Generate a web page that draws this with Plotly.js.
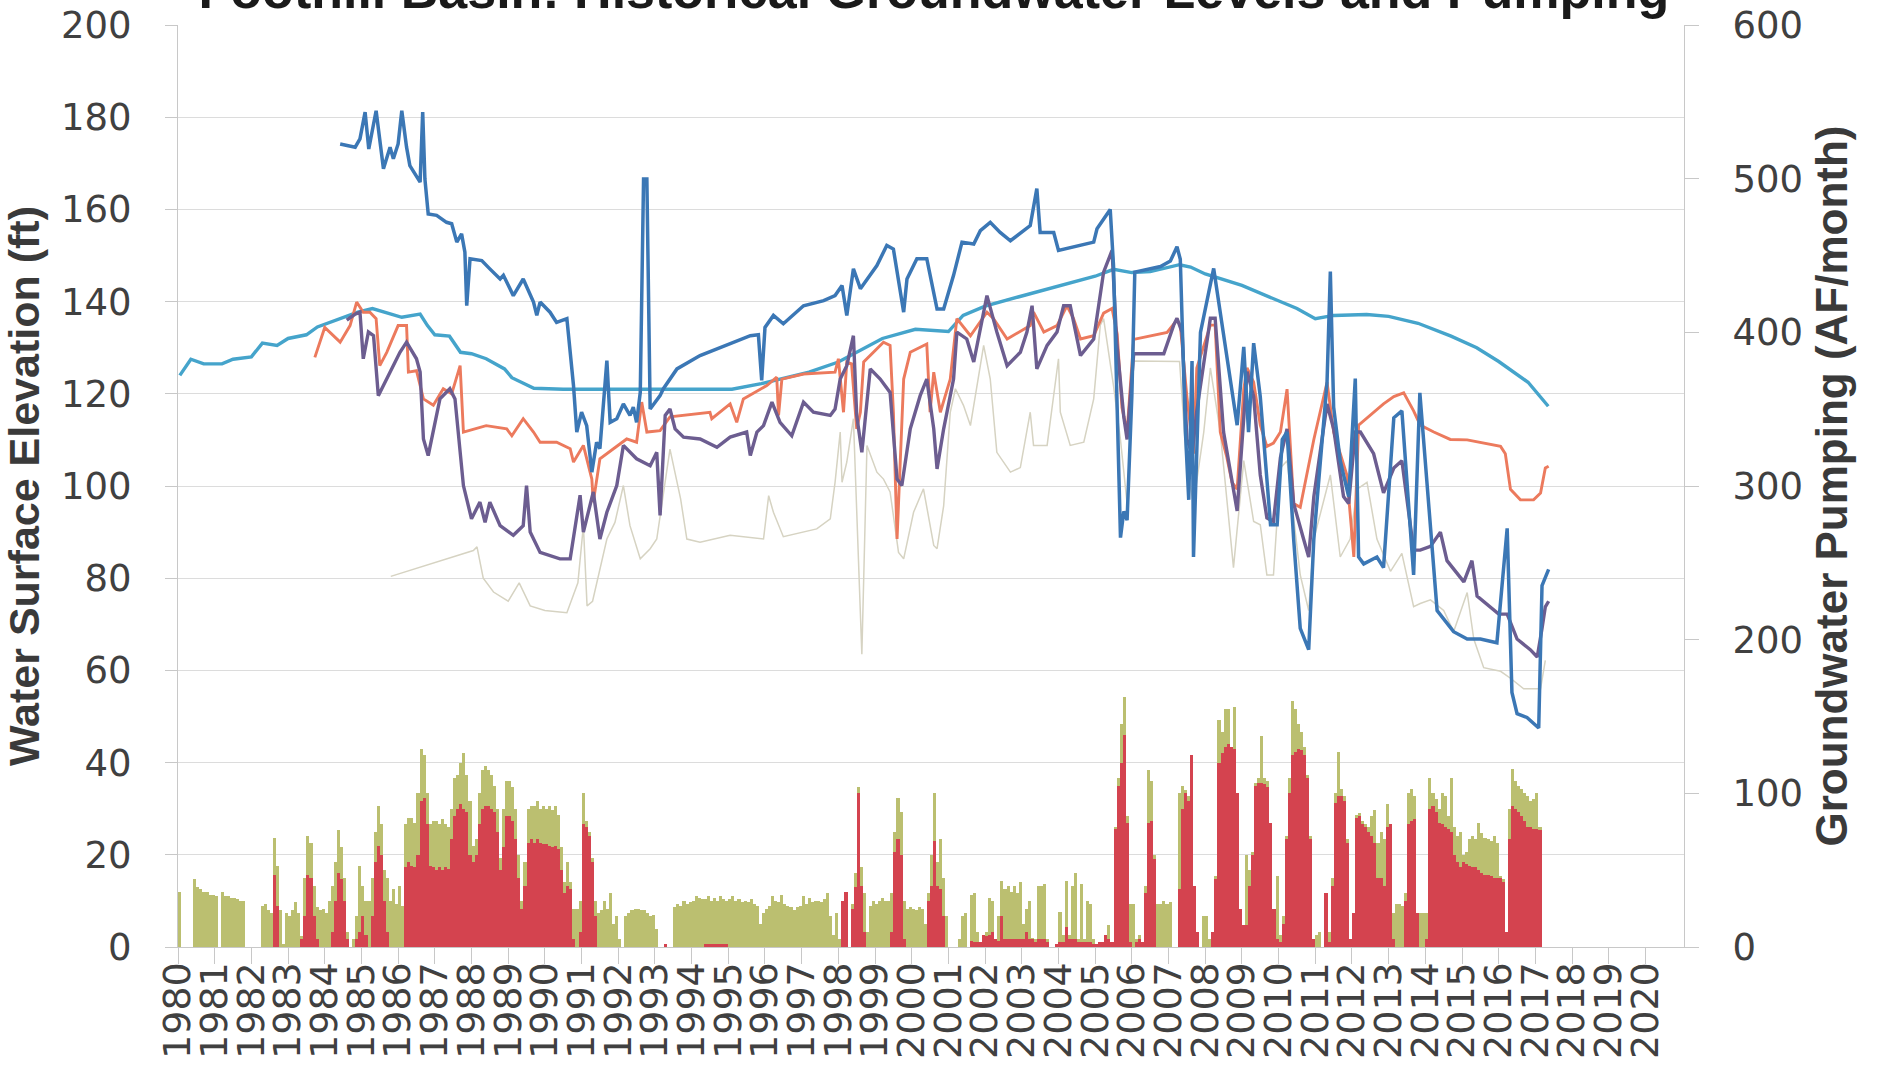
<!DOCTYPE html>
<html><head><meta charset="utf-8">
<script src="https://cdn.plot.ly/plotly-3.0.1.min.js"></script>
<style>html,body{margin:0;padding:0;background:#fff;}#chart{width:1881px;height:1079px;}</style>
</head><body><div id="chart"></div>
<script>
// ---------- axis tick labels ----------
const yearTicks = [1980,1981,1982,1983,1984,1985,1986,1987,1988,1989,1990,1991,1992,1993,1994,1995,1996,1997,1998,1999,2000,2001,2002,2003,2004,2005,2006,2007,2008,2009,2010,2011,2012,2013,2014,2015,2016,2017,2018,2019,2020];
const elevTicks = [0,20,40,60,80,100,120,140,160,180,200];
const pumpTicks = [0,100,200,300,400,500,600];

// ---------- monthly pumping (AF/month), Jan 1980 onward ----------
const pumpStartYear = 1980;
const pumpTotal = [
36,0,0,0,0,44,39,38,36,36,34,34,          //1980
33,0,36,33,33,32,32,31,30,30,0,0,         //1981
0,0,0,27,28,24,22,71,53,24,2,22,          //1982
20,24,29,22,7,45,72,68,40,26,24,25,       //1983
22,30,40,55,76,65,45,10,0,5,20,53,        //1984
40,30,30,45,75,92,80,50,45,30,38,28,      //1985
40,27,80,84,84,81,100,129,125,100,80,82,  //1986
82,80,83,80,78,90,110,112,120,126,112,95, //1987
66,70,100,115,118,115,112,105,90,58,90,108, //1988
108,104,90,60,30,55,90,92,92,95,90,92,    //1989
90,92,89,92,86,65,42,55,42,25,25,30,      //1990
100,82,75,58,30,22,24,30,25,35,15,20,     //1991
5,0,20,22,24,25,25,24,24,22,20,21,        //1992
12,0,0,2,0,0,26,28,27,30,28,29,           //1993
30,33,32,31,31,33,30,32,30,33,31,30,      //1994
31,33,30,31,29,30,29,31,28,27,15,22,      //1995
25,27,33,30,29,34,28,27,26,24,26,27,      //1996
33,28,32,29,30,30,29,31,35,20,8,22,       //1997
5,30,36,0,28,48,104,52,35,10,27,30,       //1998
28,30,32,30,30,35,75,97,88,30,25,26,      //1999
25,24,26,25,15,35,60,100,55,70,45,20,     //2000
0,0,0,5,20,22,0,34,35,10,3,8,             //2001
10,32,30,5,20,43,38,40,36,40,35,42,       //2002
15,25,30,6,5,40,40,41,5,0,0,2,            //2003
23,8,43,8,40,48,5,41,5,30,28,5,           //2004
2,3,3,8,14,3,78,110,145,163,85,28,        //2005
28,5,8,3,40,115,108,60,28,28,30,28,       //2006
29,0,0,100,105,102,98,125,40,10,0,20,     //2007
20,5,10,46,148,140,155,155,130,156,100,25,//2008
14,60,50,62,107,110,137,110,108,81,25,46, //2009
8,20,72,110,160,155,145,140,130,112,72,5, //2010
8,10,0,35,10,45,100,127,103,98,70,5,      //2011
22,86,87,82,80,78,85,89,68,75,70,93,      //2012
80,22,28,28,27,35,100,103,98,22,22,22,    //2013
22,110,100,96,90,100,98,85,110,78,72,75,  //2014
60,62,70,72,70,81,74,71,70,69,72,68,      //2015
46,44,10,90,116,108,105,103,100,98,95,96, //2016
100,78                                    //2017
];
const pumpRed = [
0,0,0,0,0,0,0,0,0,0,0,0,                  //1980
0,0,0,0,0,0,0,0,0,0,0,0,                  //1981
0,0,0,0,0,0,0,47,27,0,0,0,                //1982
0,0,0,0,5,20,47,45,20,5,0,0,              //1983
0,0,10,30,48,44,30,5,0,0,5,10,            //1984
20,8,0,20,55,66,60,30,10,0,0,0,           //1985
0,0,52,55,53,52,60,95,97,80,53,52,        //1986
50,52,50,52,51,70,85,90,93,90,88,60,      //1987
55,60,80,90,92,92,90,88,75,50,65,85,      //1988
85,82,70,45,25,40,68,70,68,70,68,67,      //1989
67,66,65,66,64,50,35,40,38,5,0,10,        //1990
80,78,72,55,20,0,0,0,0,0,0,0,             //1991
0,0,0,0,0,0,0,0,0,0,0,0,                  //1992
0,0,0,2,0,0,0,0,0,0,0,0,                  //1993
0,0,0,0,2,2,2,2,2,2,2,2,                  //1994
0,0,0,0,0,0,0,0,0,0,0,0,                  //1995
0,0,0,0,0,0,0,0,0,0,0,0,                  //1996
0,0,0,0,0,0,0,0,0,0,0,0,                  //1997
0,30,36,0,25,39,100,40,10,0,0,0,          //1998
0,0,0,0,0,10,62,70,60,5,0,0,              //1999
0,0,0,0,0,30,40,69,40,38,20,0,            //2000
0,0,0,0,0,0,0,4,3,3,3,8,                  //2001
7,8,10,5,4,20,5,5,5,5,5,5,                //2002
5,10,5,5,3,5,5,5,3,0,0,2,                 //2003
3,3,13,5,5,5,3,3,3,3,3,2,                 //2004
2,3,3,8,5,3,77,105,120,138,81,3,          //2005
0,3,5,3,35,81,82,57,0,0,0,0,              //2006
0,0,0,38,90,100,95,125,40,10,0,0,         //2007
0,0,10,44,120,126,130,132,130,129,100,25, //2008
14,14,40,60,105,107,107,106,104,81,25,5,  //2009
3,15,70,100,125,127,129,128,125,110,70,5, //2010
0,0,0,35,3,40,94,98,98,95,68,5,           //2011
22,84,85,80,78,75,72,68,45,45,40,78,      //2012
80,5,0,0,0,30,80,82,83,22,0,0,            //2013
5,90,92,88,81,80,78,77,75,60,55,52,       //2014
55,54,53,52,52,50,48,47,47,46,45,45,      //2015
45,42,10,70,92,90,88,85,82,78,78,77,      //2016
77,76                                     //2017
];

// ---------- water levels (ft) ----------
const tealYears = [1980.05,1980.35,1980.7,1981.2,1981.5,1982.0,1982.3,1982.7,1983.0,1983.5,1983.8,1984.3,1984.9,1985.3,1985.8,1986.1,1986.6,1986.8,1987.0,1987.4,1987.7,1988.0,1988.4,1988.9,1989.1,1989.7,1990.5,1992.0,1993.5,1995.1,1995.9,1997.2,1998.0,1999.2,2000.1,2001.0,2001.4,2002.0,2002.9,2003.8,2005.0,2005.5,2006.0,2006.5,2007.3,2007.6,2008.0,2009.0,2009.3,2010.0,2010.5,2011.0,2011.5,2012.4,2013.0,2013.8,2014.7,2015.4,2016.0,2016.8,2017.35];
const tealLevels = [124,127.5,126.5,126.5,127.5,128,131,130.5,132,132.8,134.5,136,137.7,138.5,137.3,136.6,137.3,134.8,132.8,132.5,129,128.7,127.6,125.4,123.5,121.2,121,121,121,121,122.2,124.7,126.9,132,134,133.5,137,139,141,143,145.5,147,146.3,146.5,148,147.5,146,143.5,142.5,140,138.5,136.3,137,137.2,136.8,135.3,132.5,130,127,122.5,117.3];

const blueYears = [1984.42,1984.83,1984.96,1985.1,1985.2,1985.4,1985.6,1985.78,1985.87,1986.0,1986.1,1986.23,1986.32,1986.6,1986.67,1986.73,1986.82,1987.05,1987.32,1987.46,1987.6,1987.73,1987.82,1987.87,1987.96,1988.28,1988.5,1988.78,1988.87,1989.14,1989.41,1989.69,1989.78,1989.87,1990.14,1990.32,1990.6,1990.78,1990.87,1991.0,1991.14,1991.28,1991.41,1991.5,1991.69,1991.78,1991.96,1992.14,1992.32,1992.41,1992.5,1992.6,1992.69,1992.78,1992.87,1993.14,1993.23,1993.6,1994.23,1994.69,1995.14,1995.6,1995.82,1995.91,1996.0,1996.23,1996.5,1997.05,1997.6,1997.91,1998.1,1998.23,1998.41,1998.6,1999.05,1999.32,1999.5,1999.78,1999.87,2000.14,2000.41,2000.69,2000.87,2001.14,2001.37,2001.69,2001.87,2002.14,2002.41,2002.69,2003.23,2003.41,2003.5,2003.87,2004.0,2004.96,2005.05,2005.41,2005.5,2005.6,2005.69,2005.78,2005.87,2006.0,2006.08,2006.78,2007.05,2007.23,2007.32,2007.46,2007.55,2007.64,2007.68,2007.87,2008.23,2008.87,2009.05,2009.18,2009.32,2009.5,2009.78,2009.96,2010.1,2010.23,2010.41,2010.59,2010.82,2010.96,2011.32,2011.41,2011.5,2011.68,2011.91,2012.09,2012.18,2012.32,2012.68,2012.86,2013.14,2013.36,2013.68,2013.85,2014.32,2014.77,2015.14,2015.5,2015.95,2016.23,2016.36,2016.5,2016.77,2017.09,2017.18,2017.36];
const blueLevels = [174.2,173.5,175.3,181.1,173.1,181.4,168.8,173.5,171,174.2,181.4,173.5,169.5,165.9,181.1,166.6,159,158.7,157.2,156.9,152.9,154.7,150.7,139.1,149.3,148.9,147.1,144.9,145.7,141.3,144.9,139.9,137,139.9,137.7,135.5,136.3,121.8,111.7,116,113.1,103,109.5,108.1,127.2,113.8,114.6,117.8,115.3,117.1,113.8,120.3,166.6,166.6,116.7,119.6,121.1,125.4,128.3,129.7,131.2,132.6,132.8,122.9,134.4,137,135.2,139.1,140.2,141.3,143.5,137,147.1,142.8,147.8,152.2,151.4,137.7,144.9,149.3,149.3,138.4,138.4,145.7,152.9,152.5,155.4,157.2,155,153.2,156.5,164.5,155,155,151.1,152.9,155.8,160,147.8,112.4,88.8,94.5,92.6,119.6,146.4,147.6,148.8,151.9,149.2,111.7,97,127.1,84.6,133.3,147.2,113.2,130.2,111.7,131,119.4,91.6,91.6,110.1,111.7,88.5,69.1,64.5,88.5,122.5,146.5,117.1,105.5,97.7,123.3,84.6,83.1,84.6,82.3,114.8,116.3,80.7,120.2,73,68.4,66.8,66.8,66,90.8,55.2,50.6,49.8,47.5,78.4,81.9];

const orangeYears = [1983.73,1984.0,1984.42,1984.69,1984.87,1985.05,1985.23,1985.4,1985.5,1985.69,1986.0,1986.23,1986.28,1986.5,1986.69,1986.96,1987.23,1987.46,1987.69,1987.78,1988.4,1988.96,1989.1,1989.41,1989.69,1989.87,1990.32,1990.69,1990.78,1991.05,1991.28,1991.32,1991.5,1991.87,1992.23,1992.5,1992.64,1992.78,1993.14,1993.41,1993.78,1994.5,1994.55,1995.05,1995.23,1995.41,1996.05,1996.32,1996.37,1996.46,1997.05,1997.91,1998.0,1998.14,1998.23,1998.36,1998.5,1998.6,1998.69,1999.23,1999.41,1999.5,1999.6,1999.78,1999.96,2000.41,2000.5,2000.6,2000.78,2001.05,2001.23,2001.6,2002.05,2002.23,2002.6,2003.23,2003.32,2003.6,2003.96,2004.23,2004.41,2004.6,2004.96,2005.23,2005.46,2005.6,2005.73,2005.87,2006.05,2006.96,2007.23,2007.32,2007.5,2007.68,2007.77,2008.14,2008.27,2008.41,2008.59,2008.73,2008.87,2009.05,2009.14,2009.32,2009.5,2009.68,2009.86,2010.05,2010.23,2010.41,2010.59,2010.96,2011.32,2011.5,2011.86,2012.05,2012.18,2012.41,2012.86,2013.14,2013.41,2013.68,2013.86,2014.23,2014.68,2015.14,2015.59,2016.05,2016.18,2016.32,2016.59,2016.95,2017.14,2017.27,2017.36];
const orangeLevels = [127.9,134.4,131.2,134.8,139.9,137.7,137.7,136.3,126.1,129,134.8,134.8,124.7,125,118.9,117.5,121.1,120,126.1,111.7,113.1,112.4,110.9,114.6,111.7,109.5,109.5,108.1,105.2,108.8,101.5,96.5,105.9,108.1,110.2,109.5,118.2,111.7,112,115,115.3,116,114.6,117.8,113.8,118.9,121.8,123.6,115.3,123.2,124.3,124.7,127.6,116,126.9,126.5,112.4,116,126.9,131.2,130.5,116,88.5,123.2,129,130.8,116,124.7,116,123.2,136.3,132.6,137.7,136.3,131.9,134.8,137.7,133.4,134.8,139.1,136.3,131.9,132.6,137.5,138.5,133,117,111.7,131.8,133.3,136,134.9,119.4,107,125.6,134.9,134.9,111.7,106.2,100.8,99.3,121,125.6,122.5,113.2,108.6,109.3,111.7,121,96.2,95.4,110.1,122.5,111.7,102.4,84.6,113.2,114.8,117.8,119.4,120.2,116.3,113.2,111.7,110.1,110,109.3,108.6,107,99.3,97,97,98.5,103.9,104.3];

const purpleYears = [1984.6,1984.83,1984.96,1985.05,1985.19,1985.33,1985.46,1985.6,1985.78,1986.05,1986.23,1986.5,1986.6,1986.69,1986.82,1986.96,1987.14,1987.41,1987.55,1987.78,1988.0,1988.23,1988.37,1988.5,1988.78,1989.14,1989.41,1989.5,1989.6,1989.87,1990.41,1990.69,1990.96,1991.05,1991.32,1991.5,1991.69,1991.96,1992.14,1992.5,1992.87,1993.05,1993.14,1993.28,1993.41,1993.55,1993.78,1994.23,1994.69,1995.05,1995.5,1995.6,1995.78,1995.96,1996.19,1996.41,1996.73,1997.05,1997.32,1997.78,1997.91,1998.05,1998.23,1998.41,1998.5,1998.64,1998.87,1999.14,1999.41,1999.6,1999.73,1999.96,2000.23,2000.41,2000.6,2000.69,2000.87,2001.14,2001.23,2001.5,2001.69,2002.05,2002.32,2002.6,2002.96,2003.14,2003.28,2003.41,2003.69,2003.96,2004.14,2004.32,2004.6,2004.96,2005.23,2005.46,2005.59,2005.78,2005.87,2006.05,2006.87,2007.14,2007.23,2007.37,2007.5,2007.64,2007.77,2008.14,2008.27,2008.5,2008.77,2008.87,2009.14,2009.32,2009.5,2009.68,2009.86,2010.05,2010.23,2010.41,2010.68,2010.82,2010.96,2011.32,2011.5,2011.77,2011.91,2012.09,2012.23,2012.59,2012.86,2013.14,2013.36,2013.68,2013.86,2014.14,2014.41,2014.59,2015.05,2015.27,2015.41,2015.77,2016.0,2016.23,2016.5,2016.86,2017.05,2017.18,2017.27,2017.36];
const purpleLevels = [136,137.3,137.7,127.6,133.4,132.6,119.6,121.8,124.7,129,131.2,127.6,124.7,110.2,106.6,112.4,118.9,121.1,118.9,100.1,92.9,96.5,92.1,96.5,91.4,89.3,91.4,100.1,90,85.6,84.2,84.2,98,90,98.7,88.5,94.3,100.1,108.8,105.9,104.4,107.3,93.6,115.3,116.7,112.4,110.6,110.2,108.4,110.6,111.7,106.6,111.7,113.1,118.2,113.8,110.9,118.2,116,115.3,116.7,123.2,126.1,132.6,115.3,107.3,125.4,123.2,120.3,101.5,100.1,112.4,119.6,123.2,112.4,103.7,112.4,123.2,133.4,131.9,126.9,141.3,133.4,126.1,129,133.4,139.1,125.4,130.5,133.4,139.1,139.1,128.3,131.9,146.4,151.1,131,115,110.1,128.7,128.7,134.9,136.4,133.3,110.1,107,116.3,136.4,136.4,111.7,99.3,94.6,124.8,119.4,102.4,93.1,92.3,106.2,112.4,96.2,88.5,84.6,97.7,117.8,112.4,97.7,96.2,111.7,111.7,107,98.5,103.9,105.5,86.1,86.1,86.9,90,83.8,79.2,83.8,76.1,73.8,72.2,72.2,66.8,64.5,62.9,69.1,73.8,75];

const grayYears = [1985.8,1988.05,1988.15,1988.32,1988.6,1989.0,1989.3,1989.6,1990.0,1990.6,1990.9,1991.05,1991.15,1991.3,1991.69,1991.91,1992.14,1992.32,1992.6,1992.87,1993.05,1993.41,1993.7,1993.87,1994.23,1995.05,1995.96,1996.1,1996.23,1996.5,1997.41,1997.78,1997.91,1998.05,1998.1,1998.23,1998.41,1998.55,1998.64,1998.78,1999.05,1999.23,1999.41,1999.64,1999.78,2000.05,2000.32,2000.6,2000.69,2000.87,2001.05,2001.19,2001.41,2001.6,2001.96,2002.14,2002.32,2002.69,2002.96,2003.23,2003.32,2003.69,2004.0,2004.05,2004.32,2004.69,2004.96,2005.14,2005.23,2005.5,2005.69,2005.87,2006.05,2007.3,2007.5,2007.68,2007.96,2008.14,2008.41,2008.77,2009.05,2009.32,2009.5,2009.68,2009.86,2010.05,2010.23,2010.59,2010.82,2010.96,2011.41,2011.68,2011.95,2012.14,2012.41,2012.68,2013.05,2013.36,2013.68,2013.86,2014.14,2014.5,2014.77,2015.14,2015.32,2015.59,2016.05,2016.32,2016.68,2017.14,2017.27];
const grayLevels = [80.4,86,86.8,80,77,75,79,74,73,72.5,79,91.4,74,75,88.5,92.1,100.1,91.4,84.2,86.4,88.5,108,97.2,88.5,87.8,89.3,88.5,97.9,94.3,89,90.7,92.9,100.8,111.7,100.8,105.2,114.6,81.3,63.5,108.8,103,101.5,98.7,85.6,84.2,94.3,99.4,87.1,86.4,95.7,116,121.1,117.5,113.1,130.5,123.2,107.3,103,104,116,108.8,108.8,127.6,116,108.8,109.5,118.9,134.9,136.3,121.7,110,96.2,127.1,127,103.9,96.2,111.7,125.6,111.7,82.3,105.5,92.3,91.6,80.7,80.7,103.9,105.5,80.7,73,88.5,102.4,84.6,88.5,99.3,100.8,88.5,81.5,85.4,73.8,74.5,75.3,73,68.4,76.9,66.8,60.6,59.8,58.3,56,56,62.2];

// ---------- build ----------
const monthX = pumpTotal.map((v, i) => pumpStartYear + (i + 0.5) / 12);
const tickFontFamily = 'DejaVu Sans, Liberation Sans, sans-serif';
const titleFamily = 'Liberation Sans, Arial, sans-serif';

const traces = [
  {type:'bar', x: monthX, y: pumpTotal, width: 1/12, yaxis:'y', xaxis:'x',
   marker:{color:'#bbbf70', line:{width:0}}, name:'Pumping (total)', hoverinfo:'x+y'},
  {type:'bar', x: monthX, y: pumpRed, width: 1/12, yaxis:'y', xaxis:'x',
   marker:{color:'#d4434f', line:{width:0}}, name:'Pumping', hoverinfo:'x+y'},
  {type:'scatter', mode:'lines', x: grayYears, y: grayLevels, yaxis:'y2',
   line:{color:'#d6d3c2', width:1.5}, name:'Well E'},
  {type:'scatter', mode:'lines', x: tealYears, y: tealLevels, yaxis:'y2',
   line:{color:'#45a4cb', width:3.4}, name:'Well A'},
  {type:'scatter', mode:'lines', x: orangeYears, y: orangeLevels, yaxis:'y2',
   line:{color:'#ec7a5d', width:2.9}, name:'Well C'},
  {type:'scatter', mode:'lines', x: purpleYears, y: purpleLevels, yaxis:'y2',
   line:{color:'#6c5d90', width:3.4}, name:'Well D'},
  {type:'scatter', mode:'lines', x: blueYears, y: blueLevels, yaxis:'y2',
   line:{color:'#3b77b5', width:3.5}, name:'Well B'}
];

const layout = {
  width:1881, height:1079,
  paper_bgcolor:'#ffffff', plot_bgcolor:'#ffffff',
  margin:{l:178, r:197, t:25, b:132, pad:0},
  showlegend:false,
  barmode:'overlay', bargap:0,
  title:{text:'Foothill Basin: Historical Groundwater Levels and Pumping',
    font:{family:titleFamily, size:52, color:'#1a1a1a', weight:'bold'},
    x:0.4965, xanchor:'center', xref:'container',
    yref:'paper', y:1, yanchor:'bottom', pad:{b:17}},
  xaxis:{range:[1980, 2021.05], tickmode:'array', tickvals:yearTicks, ticktext:yearTicks.map(String),
    tickangle:-90, ticks:'outside', ticklen:16, tickcolor:'#c8c8c8', tickwidth:1,
    showline:true, linecolor:'#c8c8c8', linewidth:1, showgrid:false, zeroline:false,
    tickfont:{family:tickFontFamily, size:38, color:'#404040'}, ticklabelstandoff:-17},
  yaxis:{range:[0,600], tickmode:'array', tickvals:pumpTicks, side:'right',
    ticks:'outside', ticklen:14, tickcolor:'#c8c8c8', showline:true, linecolor:'#c8c8c8',
    showgrid:false, zeroline:false, ticklabelstandoff:26,
    tickfont:{family:tickFontFamily, size:37, color:'#404040'},
    title:{text:'Groundwater Pumping (AF/month)', standoff:14,
      font:{family:titleFamily, size:44, color:'#3a3a3a', weight:'bold'}}},
  yaxis2:{range:[0,200], tickmode:'array', tickvals:elevTicks, side:'left', overlaying:'y',
    ticks:'outside', ticklen:12, tickcolor:'#c8c8c8', showline:true, linecolor:'#c8c8c8',
    showgrid:true, gridcolor:'#dcdcdc', gridwidth:1, zeroline:false, ticklabelstandoff:26,
    tickfont:{family:tickFontFamily, size:37, color:'#404040'},
    title:{text:'Water Surface Elevation (ft)', standoff:14,
      font:{family:titleFamily, size:43, color:'#3a3a3a', weight:'bold'}}}
};

Plotly.newPlot('chart', traces, layout, {staticPlot:true, displayModeBar:false});
</script></body></html>
